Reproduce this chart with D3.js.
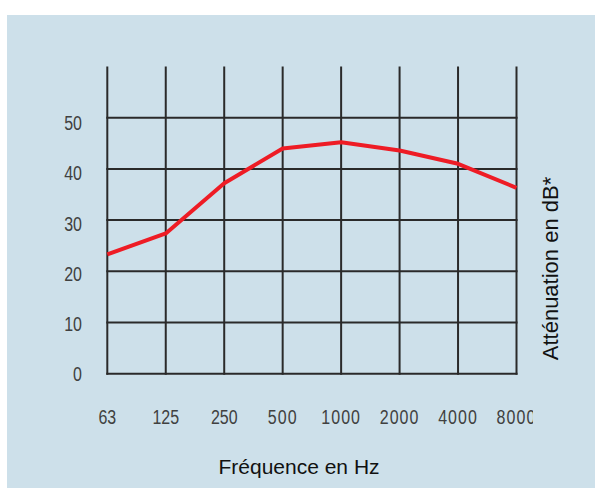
<!DOCTYPE html>
<html>
<head>
<meta charset="utf-8">
<script src="https://cdn.jsdelivr.net/npm/d3@7"></script>
<style>
  html, body { margin: 0; padding: 0; background: #fff; }
  svg { display: block; }
</style>
</head>
<body>
<svg id="chart" width="595" height="488"></svg>
<script>
const frequencies = ["63", "125", "250", "500", "1000", "2000", "4000", "8000"];
const attenuation = [23.3, 27.4, 37.2, 44.0, 45.2, 43.6, 41.0, 36.3];
const yTicks = [0, 10, 20, 30, 40, 50];
const xTitle = "Fréquence en Hz";
const yTitle = "Atténuation en dB*";

const svg = d3.select("#chart");

// background panel
svg.append("rect")
  .attr("x", 7).attr("y", 15)
  .attr("width", 595 - 7).attr("height", 488 - 15)
  .attr("fill", "#cde0ea");

const x = d3.scalePoint().domain(frequencies).range([107.3, 516.5]);
const y = d3.scaleLinear().domain([0, 60]).range([373.7, 66.5]);
// tick labels sit on a slightly compressed scale in the original
const yLab = d3.scaleLinear().domain([0, 50]).range([374.3, 123.7]);

const grid = svg.append("g").attr("stroke", "#2a2a2a").attr("stroke-width", 2);

grid.selectAll("line.h").data(yTicks).join("line")
  .attr("class", "h")
  .attr("x1", x(frequencies[0]) - 1).attr("x2", x(frequencies[frequencies.length - 1]) + 1)
  .attr("y1", d => y(d)).attr("y2", d => y(d));

grid.selectAll("line.v").data(frequencies).join("line")
  .attr("class", "v")
  .attr("x1", d => x(d)).attr("x2", d => x(d))
  .attr("y1", y(60)).attr("y2", y(0) + 1);

// curve
const line = d3.line()
  .x((d, i) => x(frequencies[i]))
  .y(d => y(d));

svg.append("path")
  .datum(attenuation)
  .attr("d", line)
  .attr("fill", "none")
  .attr("stroke", "#ee1c25")
  .attr("stroke-width", 4)
  .attr("stroke-linejoin", "round");

const tickFont = "'Liberation Sans', Arial, sans-serif";

// y tick labels (condensed look)
svg.append("g").selectAll("text").data(yTicks).join("text")
  .attr("transform", d => `translate(82,${yLab(d)}) scale(0.82,1)`)
  .attr("text-anchor", "end")
  .attr("dominant-baseline", "central")
  .attr("font-family", tickFont)
  .attr("font-size", 19.5)
  .attr("fill", "#404040")
  .text(d => d);

// x tick labels (clipped at right like the original)
svg.append("clipPath").attr("id", "xclip")
  .append("rect").attr("x", 0).attr("y", 380).attr("width", 533).attr("height", 60);

svg.append("g").attr("clip-path", "url(#xclip)")
  .selectAll("text").data(frequencies).join("text")
  .attr("transform", d => `translate(${x(d)},424) scale(0.82,1)`)
  .attr("text-anchor", "middle")
  .attr("font-family", tickFont)
  .attr("font-size", 19.5)
  .attr("letter-spacing", d => d.length >= 3 && d !== "125" && d !== "250" ? 1.3 : 0)
  .attr("fill", "#404040")
  .text(d => d);

// axis titles
svg.append("text")
  .attr("x", 299).attr("y", 474)
  .attr("text-anchor", "middle")
  .attr("font-family", "'Liberation Sans', Arial, sans-serif")
  .attr("font-size", 21)
  .attr("fill", "#111")
  .text(xTitle);

svg.append("text")
  .attr("transform", "translate(558,268.5) rotate(-90)")
  .attr("text-anchor", "middle")
  .attr("font-family", "'Liberation Sans', Arial, sans-serif")
  .attr("font-size", 22)
  .attr("fill", "#111")
  .text(yTitle);
</script>
</body>
</html>
